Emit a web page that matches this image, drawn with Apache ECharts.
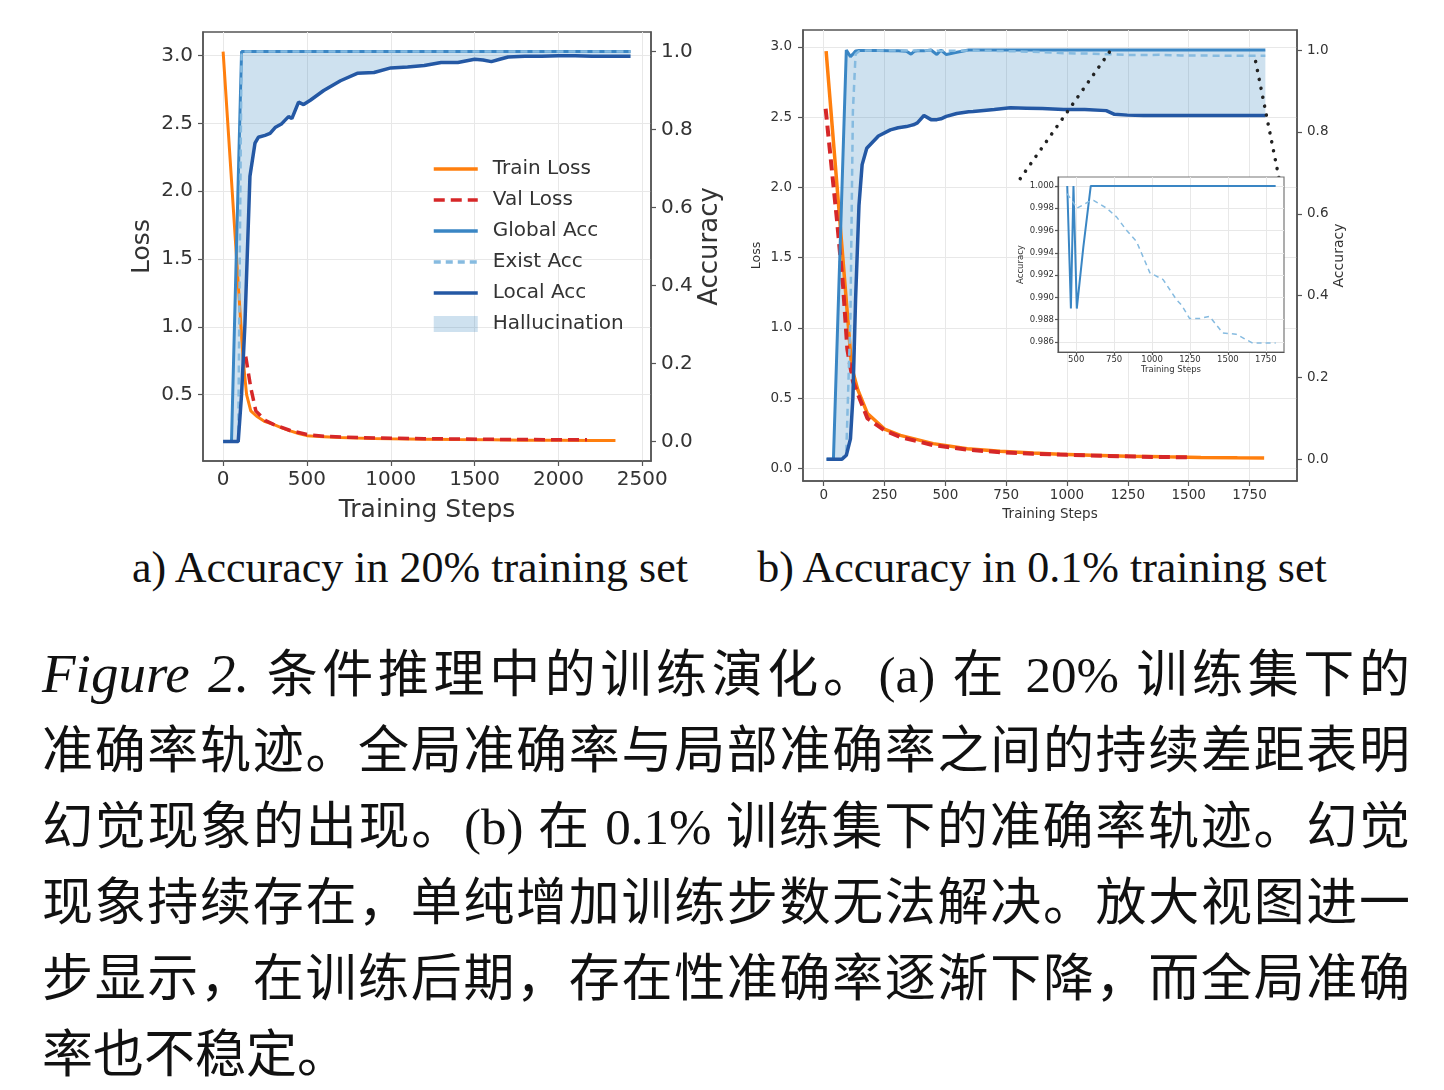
<!DOCTYPE html>
<html>
<head>
<meta charset="utf-8">
<script src="https://cdn.jsdelivr.net/npm/echarts@6/dist/echarts.min.js"></script>
<style>
  body { margin: 0; background: #fff; }
  #wrap { position: relative; width: 1444px; height: 1090px; overflow: hidden; background: #fff; }
  #chart { position: absolute; left: 0; top: 0; width: 1444px; height: 540px; }
  .sub { position: absolute; top: 543px; width: 640px; text-align: center; font-family: "Liberation Serif", serif;
         font-size: 44px; line-height: 50px; color: #111; white-space: nowrap; }
  #caption { position: absolute; left: 42px; top: 636px; width: 1368px; font-family: "Liberation Serif", "Noto Sans CJK SC", serif;
             font-size: 51px; line-height: 76px; color: #111; }
  #caption div { white-space: nowrap; text-align: justify; text-align-last: justify; }
  #caption div.last { text-align-last: left; }
  #caption i { font-size: 55px; }
</style>
</head>
<body>
<div id="wrap">
  <div id="chart"></div>
  <div class="sub" style="left:90px">a) Accuracy in 20% training set</div>
  <div class="sub" style="left:722px">b) Accuracy in 0.1% training set</div>
  <div id="caption">
    <div><i>Figure 2.</i> 条件推理中的训练演化。(a) 在 20% 训练集下的</div>
    <div>准确率轨迹。全局准确率与局部准确率之间的持续差距表明</div>
    <div>幻觉现象的出现。(b) 在 0.1% 训练集下的准确率轨迹。幻觉</div>
    <div>现象持续存在，单纯增加训练步数无法解决。放大视图进一</div>
    <div>步显示，在训练后期，存在性准确率逐渐下降，而全局准确</div>
    <div class="last">率也不稳定。</div>
  </div>
</div>
<script>
// ---- (a) 20% training set ----
var trainStepsA = [0, 120, 140, 165, 200, 250, 300, 350, 400, 450, 500, 600, 700, 800, 900, 1000, 1200, 1400, 1600, 1800, 2000, 2200, 2340];
var trainLossA = [3.03, 0.75, 0.50, 0.38, 0.34, 0.30, 0.28, 0.255, 0.232, 0.213, 0.197, 0.188, 0.183, 0.179, 0.176, 0.174, 0.171, 0.168, 0.166, 0.164, 0.163, 0.162, 0.161];
var valStepsA = [135, 165, 195, 250, 300, 400, 500, 600, 800, 1000, 1200, 1400, 1600, 1800, 2000, 2170];
var valLossA = [0.78, 0.55, 0.38, 0.31, 0.28, 0.235, 0.205, 0.192, 0.183, 0.178, 0.175, 0.172, 0.170, 0.168, 0.167, 0.166];
var accStepsA = [0, 50, 90, 110, 130, 160, 190, 210, 250, 280, 310, 350, 390, 410, 450, 480, 520, 600, 700, 800,
                 900, 1000, 1100, 1200, 1300, 1400, 1500, 1550, 1600, 1650, 1700, 1800, 1900, 2000, 2100, 2200, 2300, 2430];
var globalA = [0, 0, 0.67, 1, 1, 1, 1, 1, 1, 1, 1, 1, 1, 1, 1, 1, 1, 1, 1, 1,
               1, 1, 1, 1, 1, 1, 1, 1, 1, 1, 1, 1, 1, 1, 1, 1, 1, 1];
var existA = [0, 0, 0, 1, 1, 1, 1, 1, 1, 1, 1, 1, 1, 1, 1, 1, 1, 1, 1, 1,
              1, 1, 1, 1, 1, 1, 1, 1, 1, 1, 1, 1, 1, 1, 1, 1, 1, 1];
var localA = [0, 0, 0, 0.12, 0.30, 0.68, 0.765, 0.78, 0.785, 0.79, 0.805, 0.815, 0.833, 0.828, 0.87, 0.864, 0.875, 0.90, 0.925, 0.944,
              0.946, 0.958, 0.96, 0.964, 0.972, 0.972, 0.98, 0.978, 0.974, 0.98, 0.986, 0.988, 0.988, 0.989, 0.989, 0.988, 0.988, 0.988];

// ---- (b) 0.1% training set ----
var trainStepsB = [10, 115, 140, 180, 250, 315, 450, 590, 725, 860, 970, 1100, 1250, 1400, 1550, 1700, 1810];
var trainLossB = [2.97, 0.72, 0.56, 0.39, 0.28, 0.235, 0.176, 0.14, 0.121, 0.109, 0.10, 0.093, 0.087, 0.082, 0.078, 0.075, 0.073];
var valStepsB = [8, 55, 80, 97, 120, 180, 250, 315, 450, 590, 725, 860, 1000, 1150, 1300, 1500];
var valLossB = [2.56, 1.76, 1.29, 0.85, 0.62, 0.355, 0.27, 0.223, 0.165, 0.133, 0.115, 0.104, 0.096, 0.089, 0.083, 0.078];
var accStepsB = [12, 40, 75, 93, 110, 120, 131, 145, 158, 177, 225, 274, 306, 340, 359, 372, 385, 412, 441, 465,
                 482, 504, 547, 596, 614, 701, 767, 833, 898, 986, 1073, 1161, 1195, 1248, 1314, 1379, 1467, 1554, 1663, 1751, 1815];
var globalB = [0, 0, 0.66, 1.0, 0.984, 0.99, 0.998, 0.999, 0.999, 0.999, 0.999, 0.998, 0.998, 0.997, 0.99, 0.997, 0.998, 0.998, 1.0, 0.989,
               1.0, 0.989, 0.9945, 1.0, 1.0, 1.0, 1.0, 1.0, 1.0, 1.0, 1.0, 1.0, 1.0, 1.0, 1.0, 1.0, 1.0, 1.0, 1.0, 1.0, 1.0];
var existB = [0, 0, 0, 0.02, 0.35, 0.85, 0.99, 0.997, 0.998, 0.999, 0.999, 0.999, 0.999, 0.999, 0.998, 0.999, 0.999, 0.999, 0.9993, 0.9988,
              0.9985, 0.998, 0.9983, 0.9987, 0.9987, 0.998, 0.9972, 0.996, 0.995, 0.9922, 0.9916, 0.9898, 0.9893, 0.9881, 0.9881, 0.9883, 0.9868, 0.9867, 0.9859, 0.9859, 0.9859];
var localB = [0, 0, 0, 0.01, 0.05, 0.15, 0.39, 0.62, 0.72, 0.76, 0.79, 0.805, 0.81, 0.813, 0.816, 0.818, 0.822, 0.84, 0.83, 0.83,
              0.832, 0.838, 0.845, 0.849, 0.85, 0.855, 0.859, 0.858, 0.857, 0.855, 0.855, 0.852, 0.843, 0.841, 0.84, 0.84, 0.84, 0.84, 0.84, 0.84, 0.84];
var insetFrom = 441;

// dotted links from the main plot of (b) to the zoom inset (step, accuracy)
var zoomLinkLeft = [[1174, 0.995], [802, 0.681]];
var zoomLinkRight = [[1775, 0.972], [1873, 0.681]];

// tick labels
var stepTicksA = [0, 500, 1000, 1500, 2000, 2500];
var lossTicksA = [0.5, 1.0, 1.5, 2.0, 2.5, 3.0];
var accTicks = [0, 0.2, 0.4, 0.6, 0.8, 1.0];
var stepTicksB = [0, 250, 500, 750, 1000, 1250, 1500, 1750];
var lossTicksB = [0, 0.5, 1.0, 1.5, 2.0, 2.5, 3.0];
var stepTicksInset = [500, 750, 1000, 1250, 1500, 1750];
var accTicksInset = [0.986, 0.988, 0.990, 0.992, 0.994, 0.996, 0.998, 1.000];

var FONT = 'DejaVu Sans';
var AXIS_COLOR = '#555';
var TEXT_COLOR = '#333';
var ORANGE = '#ff7f0e', RED = '#d62728', GLOBAL = '#3a86c4', EXIST = '#86bbe0', LOCAL = '#2458a4';
var FILL = 'rgba(31,119,180,0.22)';

function zip(xs, ys) {
  var out = [];
  for (var i = 0; i < xs.length; i++) out.push([xs[i], ys[i]]);
  return out;
}

function valueAxis(o) {
  return {
    type: 'value',
    gridIndex: o.grid,
    position: o.position,
    min: o.min,
    max: o.max,
    minInterval: o.step,
    maxInterval: o.step,
    name: o.name,
    nameLocation: 'middle',
    nameGap: o.nameGap,
    nameRotate: o.rotate,
    nameTextStyle: { fontFamily: FONT, fontSize: o.nameSize, color: TEXT_COLOR },
    axisLine: { show: true, onZero: false, lineStyle: { color: AXIS_COLOR, width: o.lw || 1.5 } },
    axisTick: { show: true, inside: false, length: o.tick || 5, customValues: o.ticks,
                lineStyle: { color: AXIS_COLOR, width: 1.2 } },
    axisLabel: { customValues: o.ticks, margin: o.margin, fontFamily: FONT, fontSize: o.size, color: TEXT_COLOR,
                 formatter: function (v) { return v.toFixed(o.digits); } },
    splitLine: { show: !!o.split, lineStyle: { color: '#e8e8e8', width: 1 } },
    z: o.z || 0
  };
}

function line(name, xi, yi, xs, ys, color, width, dash, z) {
  return {
    type: 'line', name: name, xAxisIndex: xi, yAxisIndex: yi,
    data: zip(xs, ys), symbol: 'none', showSymbol: false, z: z,
    lineStyle: { color: color, width: width, type: dash || 'solid' },
    itemStyle: { color: color },
    emphasis: { disabled: true }
  };
}

function band(xi, yi, xs, upper, lower) {
  return {
    type: 'custom', name: 'Hallucination', xAxisIndex: xi, yAxisIndex: yi, z: 1,
    data: [[xs[0], lower[0]]], silent: true, clip: true,
    itemStyle: { color: FILL },
    renderItem: function (params, api) {
      var pts = [];
      for (var i = 0; i < xs.length; i++) pts.push(api.coord([xs[i], upper[i]]));
      for (var j = xs.length - 1; j >= 0; j--) pts.push(api.coord([xs[j], lower[j]]));
      return { type: 'polygon', shape: { points: pts }, style: { fill: FILL } };
    }
  };
}

function link(data) {
  return {
    type: 'line', name: 'zoom link', xAxisIndex: 1, yAxisIndex: 3, data: data,
    symbol: 'none', z: 4, silent: true,
    lineStyle: { color: '#222', width: 3.5, type: [0.1, 9], cap: 'round' }
  };
}

function pick(xs, ys, from) {
  var sx = [], sy = [];
  for (var i = 0; i < xs.length; i++) if (xs[i] >= from) { sx.push(xs[i]); sy.push(ys[i]); }
  return [sx, sy];
}

var insetGlobal = pick(accStepsB, globalB, insetFrom);
var insetExist = pick(accStepsB, existB, insetFrom);

var chart = echarts.init(document.getElementById('chart'));
chart.setOption({
  animation: false,
  backgroundColor: 'transparent',
  grid: [
    { left: 203, top: 32, width: 448, height: 429, show: true, borderColor: AXIS_COLOR, borderWidth: 1.5, backgroundColor: 'transparent' },
    { left: 803, top: 30, width: 494, height: 451, show: true, borderColor: AXIS_COLOR, borderWidth: 1.5, backgroundColor: 'transparent' },
    { left: 1058, top: 177, width: 226, height: 175, show: true, borderColor: '#777', borderWidth: 1.2, backgroundColor: '#fff', z: 5 }
  ],
  xAxis: [
    valueAxis({ grid: 0, position: 'bottom', min: -120, max: 2552, step: 500, ticks: stepTicksA, name: 'Training Steps',
                nameGap: 37, nameSize: 25, size: 20, margin: 9, digits: 0, split: true }),
    valueAxis({ grid: 1, position: 'bottom', min: -85, max: 1945, step: 250, ticks: stepTicksB, name: 'Training Steps',
                nameGap: 26, nameSize: 13.5, size: 13.5, margin: 7, digits: 0, split: true }),
    valueAxis({ grid: 2, position: 'bottom', min: 380, max: 1870, step: 250, ticks: stepTicksInset, name: 'Training Steps',
                nameGap: 12, nameSize: 8.5, size: 8.5, margin: 3, tick: 3, lw: 1.2, digits: 0, split: true, z: 6 })
  ],
  yAxis: [
    valueAxis({ grid: 0, position: 'left', min: 0.01, max: 3.175, step: 0.5, ticks: lossTicksA, name: 'Loss', rotate: 90,
                nameGap: 48, nameSize: 25, size: 20, margin: 10, digits: 1, split: true }),
    valueAxis({ grid: 0, position: 'right', min: -0.05, max: 1.05, step: 0.2, ticks: accTicks, name: 'Accuracy', rotate: 90,
                nameGap: 46, nameSize: 26, size: 20, margin: 10, digits: 1 }),
    valueAxis({ grid: 1, position: 'left', min: -0.09, max: 3.12, step: 0.5, ticks: lossTicksB, name: 'Loss', rotate: 90,
                nameGap: 40, nameSize: 12.5, size: 13.5, margin: 11, digits: 1, split: true }),
    valueAxis({ grid: 1, position: 'right', min: -0.053, max: 1.049, step: 0.2, ticks: accTicks, name: 'Accuracy', rotate: 90,
                nameGap: 34, nameSize: 14, size: 13.5, margin: 10, digits: 1 }),
    valueAxis({ grid: 2, position: 'left', min: 0.9851, max: 1.0008, step: 0.002, ticks: accTicksInset, name: 'Accuracy', rotate: 90,
                nameGap: 33, nameSize: 8.5, size: 8.5, margin: 4, tick: 3, lw: 1.2, digits: 3, split: true, z: 6 })
  ],
  legend: {
    left: 432, top: 159, padding: 0, orient: 'vertical', itemWidth: 44, itemHeight: 16, itemGap: 11, selectedMode: false,
    itemStyle: { opacity: 0 },
    lineStyle: { width: 3.5 },
    textStyle: { fontFamily: FONT, fontSize: 20, color: TEXT_COLOR, padding: [0, 0, 0, 10] },
    data: ['Train Loss', 'Val Loss', 'Global Acc', 'Exist Acc', 'Local Acc',
           { name: 'Hallucination', icon: 'rect', itemStyle: { color: FILL, opacity: 1 } }]
  },
  series: [
    band(0, 1, accStepsA, globalA, localA),
    line('Train Loss', 0, 0, trainStepsA, trainLossA, ORANGE, 3, 'solid', 2),
    line('Val Loss', 0, 0, valStepsA, valLossA, RED, 3.5, [11, 6], 2),
    line('Global Acc', 0, 1, accStepsA, globalA, GLOBAL, 3, 'solid', 3),
    line('Exist Acc', 0, 1, accStepsA, existA, EXIST, 2.5, [7, 5], 3),
    line('Local Acc', 0, 1, accStepsA, localA, LOCAL, 3.5, 'solid', 3),

    band(1, 3, accStepsB, globalB, localB),
    line('Train Loss', 1, 2, trainStepsB, trainLossB, ORANGE, 3.5, 'solid', 2),
    line('Val Loss', 1, 2, valStepsB, valLossB, RED, 4, [11, 6], 2),
    line('Global Acc', 1, 3, accStepsB, globalB, GLOBAL, 3, 'solid', 3),
    line('Exist Acc', 1, 3, accStepsB, existB, EXIST, 2.5, [7, 5], 3),
    line('Local Acc', 1, 3, accStepsB, localB, LOCAL, 3.5, 'solid', 3),
    link(zoomLinkLeft),
    link(zoomLinkRight),

    line('Global Acc', 2, 4, insetGlobal[0], insetGlobal[1], GLOBAL, 2, 'solid', 7),
    line('Exist Acc', 2, 4, insetExist[0], insetExist[1], EXIST, 1.5, [5, 4], 7)
  ]
});
</script>
</body>
</html>
